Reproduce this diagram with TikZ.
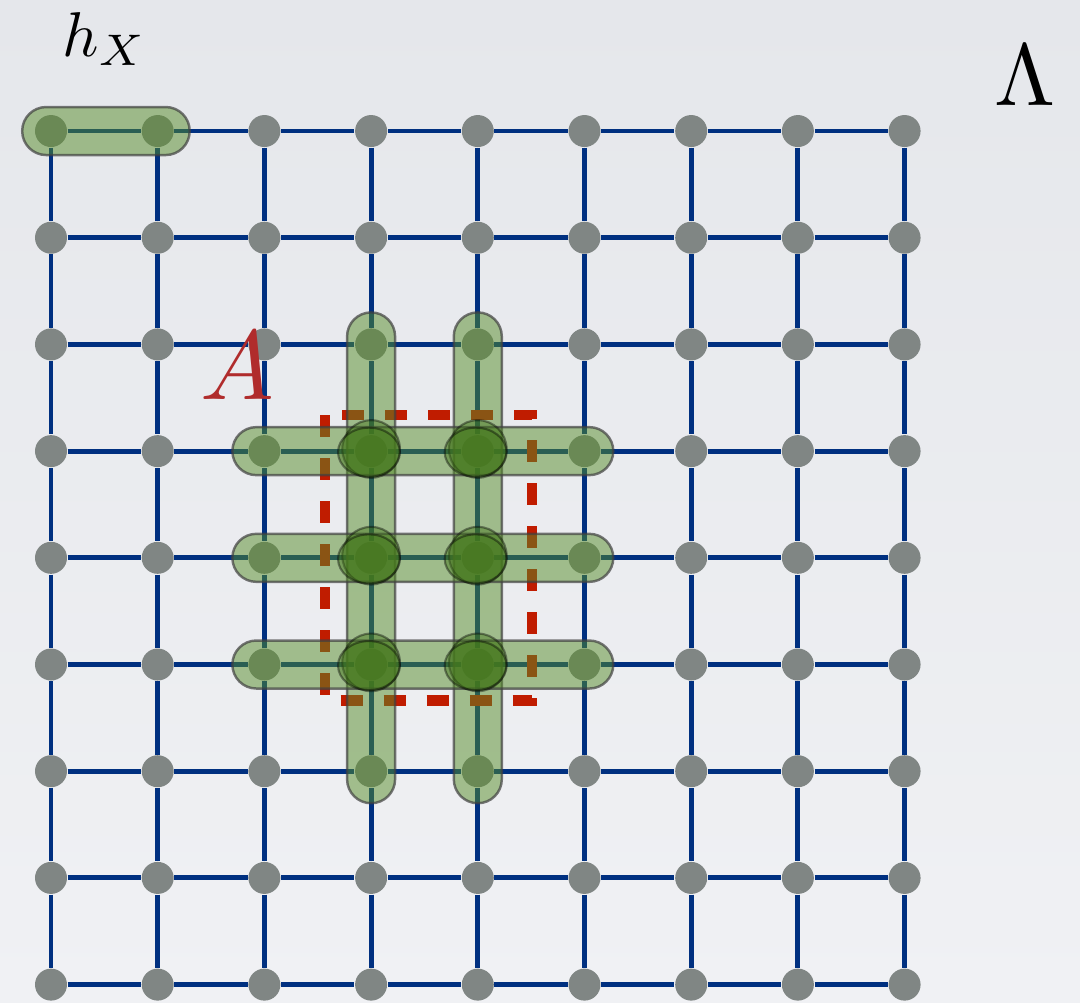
\documentclass[tikz,border=0pt]{standalone}
\usepackage{tikz}
\usetikzlibrary{calc}
\usepackage{xcolor}
\definecolor{LatticeNavy}{RGB}{0,48,128}
\definecolor{SiteGray}{RGB}{128,134,132}
\definecolor{TermGreen}{RGB}{85,140,40}
\definecolor{BlobGreen}{RGB}{65,115,25}
\definecolor{RegionRed}{RGB}{192,28,0}
\definecolor{LabelRed}{RGB}{176,44,44}
\definecolor{BgTop}{RGB}{229,231,235}
\definecolor{BgBottom}{RGB}{240,241,244}
\tikzset{
    % Lattice styles
    site/.style={
        circle,
        fill=SiteGray,
        inner sep=0pt,
        minimum size=0.32cm
    },
    bond/.style={
        draw=LatticeNavy,
        line width=1.4pt
    },
    % Interaction terms
    pill/.style={
        fill=TermGreen,
        fill opacity=0.5,
        draw=black!75,
        draw opacity=0.7,
        line width=0.7pt,
        rounded corners=0.24cm
    },
    blob/.style={
        fill=BlobGreen,
        fill opacity=0.45,
        draw=black,
        draw opacity=0.4,
        line width=0.6pt
    },
    % Region
    region/.style={
        draw=RegionRed,
        line width=2.9pt,
        dash pattern=on 0.22cm off 0.21cm
    }
}
\begin{document}
\begin{tikzpicture}[x=1.067cm, y=1.067cm]
    % Background
    \shade[top color=BgTop, bottom color=BgBottom] (-0.478,1.228) rectangle (9.644,-8.163);
    \useasboundingbox (-0.478,1.228) rectangle (9.644,-8.163);

    % Sites
    \foreach \i in {0,...,8}
        \foreach \j in {0,...,8}
            \node[site] (n-\i-\j) at (\i,-\j) {};

    % Bonds
    \foreach \i [evaluate=\i as \k using int(\i+1)] in {0,...,7}
        \foreach \j in {0,...,8} {
            \draw[bond] (n-\i-\j) -- (n-\k-\j);
            \draw[bond] (n-\j-\i) -- (n-\j-\k);
        }

    % Region A
    \draw[region] (2.568,-2.664) rectangle (4.508,-5.338);

    % Term h_X
    \draw[pill] ($(n-0-0)+(-0.27,0.225)$) rectangle ($(n-1-0)+(0.3,-0.225)$);

    % Vertical terms
    \foreach \i in {3,4}
        \draw[pill] ($(n-\i-2)+(-0.225,0.3)$) rectangle ($(n-\i-6)+(0.225,-0.3)$);

    % Horizontal terms
    \foreach \j in {3,4,5}
        \draw[pill] ($(n-2-\j)+(-0.3,0.225)$) rectangle ($(n-5-\j)+(0.27,-0.225)$);

    % Overlaps
    \foreach \i in {3,4}
        \foreach \j in {3,4,5} {
            \filldraw[blob] ($(n-\i-\j)+(0,0.02)$) circle[radius=0.27];
            \filldraw[blob] ($(n-\i-\j)+(-0.02,-0.01)$) ellipse[x radius=0.29, y radius=0.23];
        }

    % Labels
    \node[scale=1.8] (hx) at (0.5,0.86) {$h_X$};
    \node[scale=2.5] (lam) at (9.13,0.52) {$\Lambda$};
    \node[scale=2.8, text=LabelRed] (lblA) at (1.75,-2.2) {$A$};
\end{tikzpicture}
\end{document}
